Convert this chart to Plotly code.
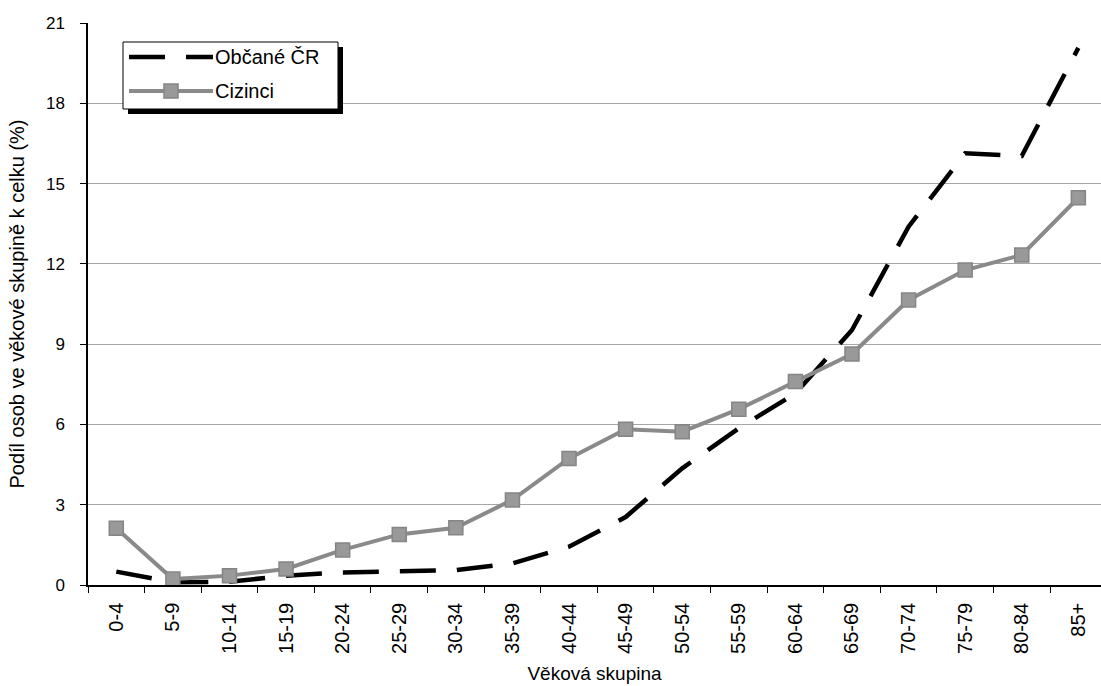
import plotly.graph_objects as go

categories = ["0-4", "5-9", "10-14", "15-19", "20-24", "25-29", "30-34", "35-39",
              "40-44", "45-49", "50-54", "55-59", "60-64", "65-69", "70-74",
              "75-79", "80-84", "85+"]
obcane_cr = [0.50, 0.10, 0.12, 0.35, 0.47, 0.50, 0.56, 0.81, 1.43, 2.54, 4.36,
             5.86, 7.16, 9.53, 13.39, 16.13, 16.03, 20.07]
cizinci = [2.12, 0.22, 0.35, 0.60, 1.31, 1.89, 2.14, 3.18, 4.73, 5.82, 5.73,
           6.57, 7.60, 8.63, 10.65, 11.77, 12.33, 14.47]
y_ticks = [0, 3, 6, 9, 12, 15, 18, 21]

W, H = 1101, 686
L, R, T, B = 88, 0, 23, 101
PW, PH = W - L - R, H - T - B
FONT = "Liberation Sans, Arial, sans-serif"


def px(x):
    return (x - L) / PW


def py(y):
    return (H - B - y) / PH


fig = go.Figure()
fig.add_trace(go.Scatter(
    x=categories, y=obcane_cr, mode="lines", name="Občané ČR",
    line=dict(color="black", width=4.5, dash="36px,21px"),
    showlegend=False, hoverinfo="skip"))
fig.add_trace(go.Scatter(
    x=categories, y=cizinci, mode="lines+markers", name="Cizinci",
    line=dict(color="#8a8a8a", width=4),
    marker=dict(symbol="square", size=14, color="#999999",
                line=dict(color="#858585", width=1.5)),
    showlegend=False, hoverinfo="skip"))

shapes = [
    dict(type="rect", xref="paper", yref="paper", x0=px(128), x1=px(343),
         y0=py(114), y1=py(47), fillcolor="black", line=dict(width=0), layer="above"),
    dict(type="rect", xref="paper", yref="paper", x0=px(123), x1=px(338),
         y0=py(109), y1=py(42), fillcolor="white", line=dict(color="black", width=1),
         layer="above"),
    dict(type="line", xref="paper", yref="paper", x0=px(129), x1=px(213),
         y0=py(57), y1=py(57), line=dict(color="black", width=4.5, dash="36px,21px"),
         layer="above"),
    dict(type="line", xref="paper", yref="paper", x0=px(129), x1=px(213),
         y0=py(91), y1=py(91), line=dict(color="#8a8a8a", width=4), layer="above"),
    dict(type="rect", xref="paper", yref="paper", x0=px(164), x1=px(178),
         y0=py(98), y1=py(84), fillcolor="#999999",
         line=dict(color="#858585", width=1.5), layer="above"),
]
annotations = [
    dict(xref="paper", yref="paper", x=px(213), y=py(57), text="Občané ČR",
         showarrow=False, xanchor="left", yanchor="middle",
         font=dict(family=FONT, size=20, color="black")),
    dict(xref="paper", yref="paper", x=px(213), y=py(91), text="Cizinci",
         showarrow=False, xanchor="left", yanchor="middle",
         font=dict(family=FONT, size=20, color="black")),
]

fig.update_layout(
    width=W, height=H,
    margin=dict(l=L, r=R, t=T, b=B, pad=0),
    paper_bgcolor="white", plot_bgcolor="white",
    font=dict(family=FONT, color="black"),
    shapes=shapes, annotations=annotations,
    xaxis=dict(
        type="category", categoryorder="array", categoryarray=categories,
        range=[-0.5, 17.4], showgrid=False,
        showline=True, linecolor="black", linewidth=1.5,
        ticks="outside", ticklen=6, tickcolor="black", tickwidth=1,
        tickson="boundaries", tickangle=-90, ticklabelstandoff=8,
        tickfont=dict(family=FONT, size=20, color="black"),
        title=dict(text="Věková skupina", standoff=14,
                   font=dict(family=FONT, size=19, color="black")),
    ),
    yaxis=dict(
        range=[0, 21], tickvals=y_ticks, ticktext=[str(v) for v in y_ticks],
        showgrid=True, gridcolor="#a6a6a6", gridwidth=1, zeroline=False,
        showline=True, linecolor="black", linewidth=1.5,
        ticks="outside", ticklen=6, tickcolor="black", tickwidth=1,
        ticklabelstandoff=12,
        tickfont=dict(family=FONT, size=17, color="black"),
        title=dict(text="Podíl osob ve věkové skupině k celku (%)", standoff=16,
                   font=dict(family=FONT, size=20, color="black")),
    ),
)

fig.write_html("out.html", config={"displayModeBar": False},
               post_script="document.body.style.margin='0';document.body.style.padding='0';")
